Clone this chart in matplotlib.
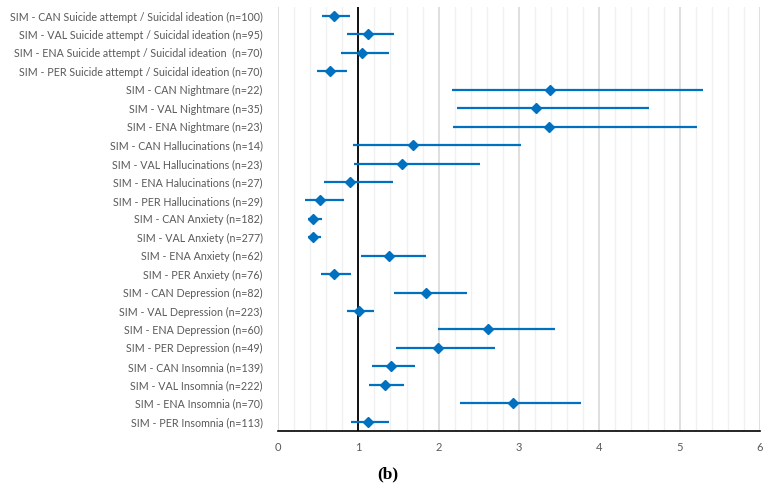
import matplotlib
matplotlib.use('Agg')
import matplotlib.pyplot as plt
from matplotlib.ticker import MultipleLocator

labels = [
    'SIM - CAN Suicide attempt / Suicidal ideation (n=100)',
    'SIM - VAL Suicide attempt / Suicidal ideation (n=95)',
    'SIM - ENA Suicide attempt / Suicidal ideation  (n=70)',
    'SIM - PER Suicide attempt / Suicidal ideation (n=70)',
    'SIM - CAN Nightmare (n=22)',
    'SIM - VAL Nightmare (n=35)',
    'SIM - ENA Nightmare (n=23)',
    'SIM - CAN Hallucinations (n=14)',
    'SIM - VAL Hallucinations (n=23)',
    'SIM - ENA Halucinations (n=27)',
    'SIM - PER Hallucinations (n=29)',
    'SIM - CAN Anxiety (n=182)',
    'SIM - VAL Anxiety (n=277)',
    'SIM - ENA Anxiety (n=62)',
    'SIM - PER Anxiety (n=76)',
    'SIM - CAN Depression (n=82)',
    'SIM - VAL Depression (n=223)',
    'SIM - ENA Depression (n=60)',
    'SIM - PER Depression (n=49)',
    'SIM - CAN Insomnia (n=139)',
    'SIM - VAL Insomnia (n=222)',
    'SIM - ENA Insomnia (n=70)',
    'SIM - PER Insomnia (n=113)',
]
odds = [0.70, 1.12, 1.04, 0.65, 3.39, 3.21, 3.37, 1.68, 1.54, 0.90, 0.52, 0.44,
        0.43, 1.38, 0.70, 1.84, 1.01, 2.62, 1.99, 1.41, 1.33, 2.93, 1.12]
ci_low = [0.55, 0.86, 0.79, 0.49, 2.17, 2.23, 2.18, 0.93, 0.94, 0.57, 0.33, 0.37,
          0.37, 1.03, 0.53, 1.45, 0.86, 1.99, 1.47, 1.17, 1.13, 2.27, 0.91]
ci_high = [0.90, 1.44, 1.38, 0.86, 5.29, 4.62, 5.21, 3.02, 2.51, 1.43, 0.82, 0.55,
           0.53, 1.84, 0.91, 2.35, 1.20, 3.45, 2.70, 1.71, 1.57, 3.77, 1.38]

blue = '#0070C0'
grey_txt = '#595959'

fig = plt.figure(figsize=(7.68, 4.88), dpi=100)
ax = fig.add_axes([0.362, 0.117, 0.6276, 0.869])

ypos = list(range(len(labels)))
err = [[o - l for o, l in zip(odds, ci_low)], [h - o for o, h in zip(odds, ci_high)]]
ax.errorbar(odds, ypos, xerr=err, fmt='D', color=blue, ecolor=blue,
            markersize=5.3, elinewidth=1.6, capsize=0, zorder=3)

ax.axvline(1, color='black', lw=1.3, zorder=2)

ax.set_xlim(0, 6)
ax.set_ylim(len(labels) - 0.5, -0.5)
ax.xaxis.set_major_locator(MultipleLocator(1))
ax.xaxis.set_minor_locator(MultipleLocator(0.2))
ax.grid(axis='x', which='major', color='#D9D9D9', lw=1.2, zorder=0)
ax.grid(axis='x', which='minor', color='#F0F0F0', lw=1.0, zorder=0)
ax.set_axisbelow(True)

ax.set_yticks(ypos)
ax.set_yticklabels(labels)
ax.tick_params(axis='y', length=0, pad=11, labelsize=7.7, labelcolor=grey_txt)
ax.tick_params(axis='x', which='both', length=0, pad=8, labelsize=8, labelcolor=grey_txt)
for lab in ax.get_yticklabels() + ax.get_xticklabels():
    lab.set_family('Lato')

for s in ['top', 'right', 'left']:
    ax.spines[s].set_visible(False)
ax.spines['bottom'].set_color('black')
ax.spines['bottom'].set_linewidth(1.2)

fig.text(0.505, 0.028, '(b)', family='Liberation Serif', weight='bold',
         fontsize=12.5, ha='center', va='center')

fig.savefig('out.png', dpi=100)
